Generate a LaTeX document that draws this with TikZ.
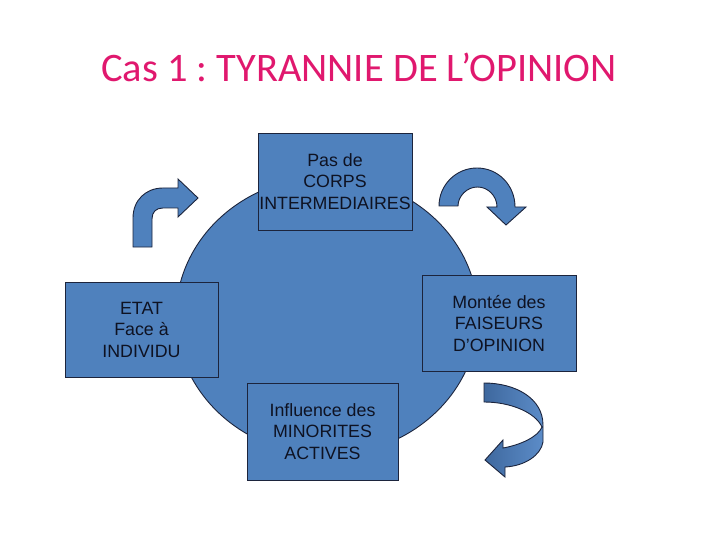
\documentclass[tikz,border=0pt]{standalone}
\usepackage{fontspec}
\setmainfont{Liberation Sans}
\newfontfamily\titlefont{Carlito}
\frenchspacing
\definecolor{fillblue}{RGB}{79,129,189}
\definecolor{edgecol}{RGB}{28,36,60}
\definecolor{titlecol}{RGB}{224,24,110}
\definecolor{textcol}{RGB}{14,18,34}
\definecolor{ribbondark}{RGB}{62,104,158}
\definecolor{ribbonlight}{RGB}{92,140,200}
\tikzset{
  boxnode/.style={draw=edgecol, line width=0.9pt, fill=fillblue, inner sep=0pt,
    align=center, text=textcol, font=\fontsize{17.8}{21.5}\selectfont},
  arrowshape/.style={draw=edgecol, line width=0.9pt, fill=fillblue, line join=miter},
  titlestyle/.style={text=titlecol, font=\titlefont\fontsize{40.5}{48}\selectfont, inner sep=0pt}
}
\begin{document}
\begin{tikzpicture}[x=1pt,y=-1pt]
\useasboundingbox (0,0) rectangle (720,540);
% title
\node[titlestyle, anchor=base] (title) at (359,82) {Cas 1 : TYRANNIE DE L’OPINION};
% arrows
\draw[arrowshape] (133,247) -- (133,218) .. controls (133,200) and (146,188) .. (163,188)
  -- (178,188) -- (178,179) -- (198,198) -- (178,217) -- (178,208) -- (163,208)
  .. controls (156,208) and (152,212) .. (152,219) -- (152,247) -- cycle;
\draw[arrowshape] (439,206) .. controls (439,185) and (456,168) .. (477,168)
  .. controls (498,168) and (515,185) .. (515,207) -- (526,207) -- (506,225) -- (487,207) -- (497,207)
  .. controls (497,196) and (488,187) .. (477.5,187) .. controls (467,187) and (458,196) .. (458,206) -- cycle;
\draw[draw=edgecol, line width=0.9pt, left color=ribbondark, right color=ribbonlight]
  (484,383) .. controls (515,383) and (543,398) .. (543,425) -- (543,442)
  .. controls (541,455) and (525,466) .. (505,467) -- (505,477) -- (485,460) -- (503,440) -- (503,448)
  .. controls (520,445) and (538,437) .. (542,427) .. controls (535,412) and (510,402) .. (484,402) -- cycle;
% circle
\draw[draw=edgecol, line width=0.9pt, fill=fillblue] (327,316) ellipse [x radius=151, y radius=139];
% boxes
\node[boxnode, minimum width=154pt, minimum height=97pt] (corps) at (335,181.5) {Pas de\\CORPS\\INTERMEDIAIRES};
\node[boxnode, minimum width=153pt, minimum height=95pt] (etat) at (141.5,329.5) {ETAT\\Face à\\INDIVIDU};
\node[boxnode, minimum width=154pt, minimum height=96pt] (faiseurs) at (499,323.5) {Montée des\\FAISEURS\\D’OPINION};
\node[boxnode, minimum width=151pt, minimum height=97pt] (minorites) at (322.5,431.5) {Influence des\\MINORITES\\ACTIVES};
\end{tikzpicture}
\end{document}
